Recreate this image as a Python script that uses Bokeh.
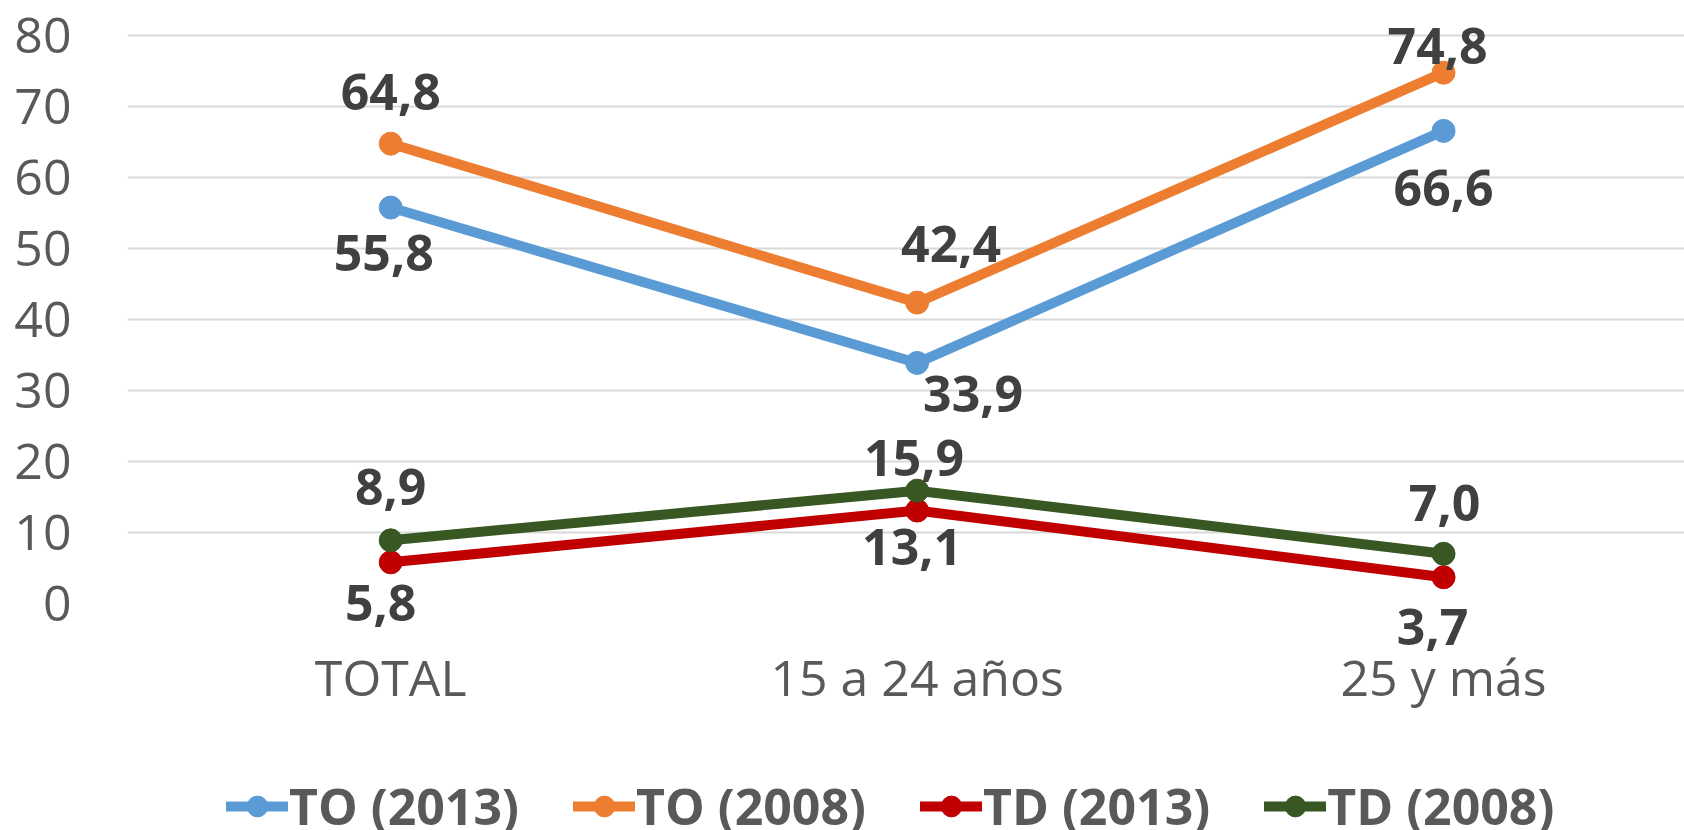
from bokeh.plotting import figure
from bokeh.layouts import column
from bokeh.models import ColumnDataSource, FixedTicker, Legend, LegendItem
from bokeh.core.properties import value
from bokeh.embed import file_html
from bokeh.resources import INLINE

# ---- data ----
categories = ["TOTAL", "15 a 24 años", "25 y más"]
to_2013 = [55.8, 33.9, 66.6]
to_2008 = [64.8, 42.4, 74.8]
td_2013 = [5.8, 13.1, 3.7]
td_2008 = [8.9, 15.9, 7.0]
series_names = ["TO (2013)", "TO (2008)", "TD (2013)", "TD (2008)"]
y_ticks = [0, 10, 20, 30, 40, 50, 60, 70, 80]

# ---- styles ----
colors = ["#5B9BD5", "#ED7D31", "#C00000", "#385723"]
# label offsets in screen pixels (dx, dy; dy positive = down)
label_dx = [[-7, 56, 0], [0, 34, -6], [-10, -5, -11], [0, -3, 1]]
label_dy = [[45, 31, 57], [-52, -59, -27], [41, 36, 50], [-53, -33, -51]]

FONT = "Open Sans"
LW = 10
MS = 23
xs = list(range(len(categories)))
all_series = [to_2013, to_2008, td_2013, td_2008]

p = figure(width=1684, height=740, output_backend="svg", toolbar_location=None,
           x_range=(-0.5, 2.4577), y_range=(0, 83),
           min_border_left=127, min_border_right=0, min_border_top=14, min_border_bottom=137)
p.outline_line_color = None
p.background_fill_color = "white"
p.border_fill_color = "white"

p.xgrid.grid_line_color = None
p.ygrid.grid_line_color = "#D9D9D9"
p.ygrid.grid_line_width = 2

p.yaxis.ticker = FixedTicker(ticks=y_ticks)
p.xaxis.ticker = FixedTicker(ticks=xs)
p.xaxis.major_label_overrides = {i: c for i, c in enumerate(categories)}
for ax in (p.xaxis, p.yaxis):
    ax.axis_line_color = None
    ax.major_tick_line_color = None
    ax.minor_tick_line_color = None
    ax.major_tick_in = 0
    ax.major_tick_out = 0
    ax.major_label_text_font = FONT
    ax.major_label_text_font_size = "50px"
    ax.major_label_text_color = "#595959"
p.yaxis.major_label_standoff = 56
p.xaxis.major_label_standoff = 39

for k, (vals, col) in enumerate(zip(all_series, colors)):
    src = ColumnDataSource(dict(x=xs, y=vals))
    p.line("x", "y", source=src, line_color=col, line_width=LW, line_cap="round")
    p.scatter("x", "y", source=src, size=MS, fill_color=col, line_color=col)

for k, vals in enumerate(all_series):
    src = ColumnDataSource(dict(
        x=xs, y=vals,
        lab=[("%.1f" % v).replace(".", ",") for v in vals],
        dx=label_dx[k], dy=label_dy[k]))
    p.text("x", "y", text="lab", source=src, x_offset="dx", y_offset="dy",
           text_font=value(FONT), text_font_style="bold", text_font_size="50px",
           text_color="#404040", text_align="center", text_baseline="middle",
           level="overlay")

# ---- legend strip (separate figure so the legend is not clipped by the plot frame) ----
lg = figure(width=1684, height=90, output_backend="svg", toolbar_location=None,
            x_range=(10, 11), y_range=(10, 11), x_axis_type=None, y_axis_type=None,
            min_border=0, min_border_left=0, min_border_right=0,
            min_border_top=0, min_border_bottom=0)
lg.outline_line_color = None
lg.xgrid.grid_line_color = None
lg.ygrid.grid_line_color = None
items = []
for vals, name, col in zip(all_series, series_names, colors):
    src = ColumnDataSource(dict(x=xs, y=vals))
    lr = lg.line("x", "y", source=src, line_color=col, line_width=LW, line_cap="round")
    sr = lg.scatter("x", "y", source=src, size=MS, fill_color=col, line_color=col)
    items.append(LegendItem(label=name, renderers=[lr, sr]))

legend = Legend(items=items, orientation="horizontal", location=(99, -10),
                label_text_font=FONT, label_text_font_style="bold",
                label_text_font_size="50px", label_text_color="#595959",
                glyph_width=62, glyph_height=52, label_standoff=1, spacing=54,
                padding=0, margin=0, border_line_color=None,
                background_fill_alpha=0)
lg.add_layout(legend, "center")

layout = column(p, lg, spacing=0)
open("out.html", "w").write(file_html(layout, INLINE))
